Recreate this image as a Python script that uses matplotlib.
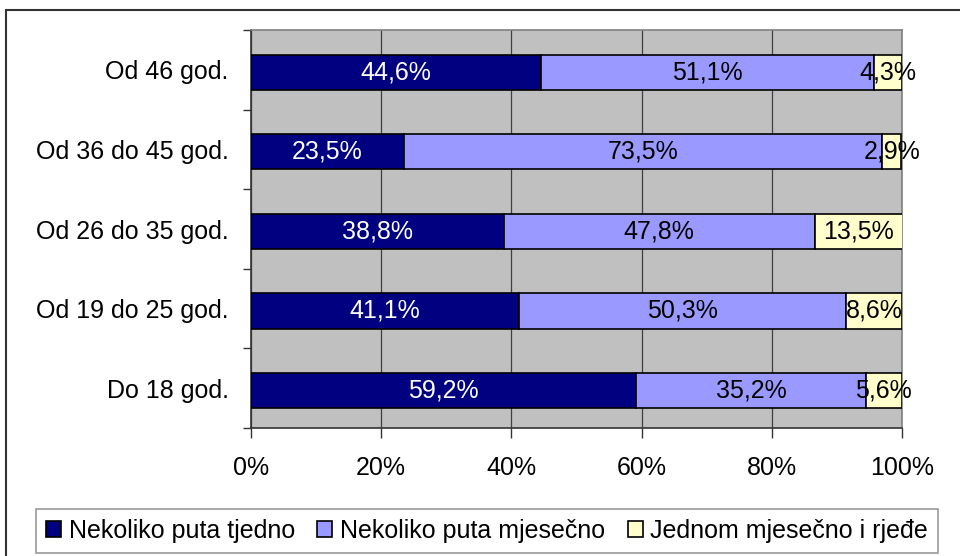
import matplotlib.pyplot as plt
from matplotlib.patches import Rectangle
import numpy as np

plt.rcParams['font.family'] = ['Liberation Sans', 'DejaVu Sans']

categories = ['Do 18 god.', 'Od 19 do 25 god.', 'Od 26 do 35 god.',
              'Od 36 do 45 god.', 'Od 46 god.']
tjedno = [59.2, 41.1, 38.8, 23.5, 44.6]
mjesecno = [35.2, 50.3, 47.8, 73.5, 51.1]
rjede = [5.6, 8.6, 13.5, 2.9, 4.3]
series_names = ['Nekoliko puta tjedno', 'Nekoliko puta mjesečno',
                'Jednom mjesečno i rjeđe']
colors = ['#000080', '#9999FF', '#FFFFCC']
text_colors = ['white', 'black', 'black']
fs = 18

fig = plt.figure(figsize=(9.6, 5.56), dpi=100)
fig.patches.append(Rectangle((6 / 960, -0.1), 1.2, 1 - 10 / 556 + 0.1,
                             transform=fig.transFigure, fill=False,
                             edgecolor='#333333', linewidth=1.5))
ax = fig.add_axes([251 / 960, 1 - 428 / 556, (902 - 251) / 960, (428 - 30) / 556])
ax.set_facecolor('#C0C0C0')

y = np.arange(len(categories))
left = np.zeros(len(categories))
handles = []
for vals, name, col, tcol in zip([tjedno, mjesecno, rjede], series_names,
                                 colors, text_colors):
    vals = np.array(vals)
    b = ax.barh(y - 0.03, vals, left=left, height=0.44, color=col,
                edgecolor='black', linewidth=1.2, label=name, zorder=3)
    handles.append(b)
    for yi, l, v in zip(y, left, vals):
        ax.text(l + v / 2, yi - 0.03, f'{v:.1f}%'.replace('.', ','), ha='center',
                va='center', color=tcol, fontsize=fs, zorder=4)
    left += vals

ax.set_xlim(0, 100)
ax.set_ylim(-0.5, len(categories) - 0.5)
ax.set_xticks([0, 20, 40, 60, 80, 100])
ax.set_xticklabels(['0%', '20%', '40%', '60%', '80%', '100%'], fontsize=fs)
ax.set_yticks(y)
ax.set_yticklabels(categories, fontsize=fs)
ax.set_yticks(np.arange(-0.5, len(categories), 1), minor=True)
ax.tick_params(axis='y', which='major', length=0, pad=16)
ax.tick_params(axis='y', which='minor', length=6, width=1, color='#333333')
ax.tick_params(axis='x', length=7, width=1, color='#333333', pad=13)
ax.grid(axis='x', color='#404040', linewidth=0.9, zorder=1)
ax.set_axisbelow(True)
for s in ['top', 'right']:
    ax.spines[s].set_color('#808080')
    ax.spines[s].set_linewidth(1.2)
for s in ['left', 'bottom']:
    ax.spines[s].set_color('#333333')
    ax.spines[s].set_linewidth(1.2)

leg = fig.legend(handles=handles, loc='center',
                 bbox_to_anchor=(487 / 960, 1 - 531 / 556),
                 ncol=3, fontsize=fs, frameon=True, fancybox=False,
                 handlelength=0.6, handleheight=0.6, handletextpad=0.3,
                 columnspacing=0.9, borderpad=0.4, borderaxespad=0)
leg.get_frame().set_edgecolor('#808080')
leg.get_frame().set_linewidth(1.2)

fig.savefig('out.png', dpi=100)
